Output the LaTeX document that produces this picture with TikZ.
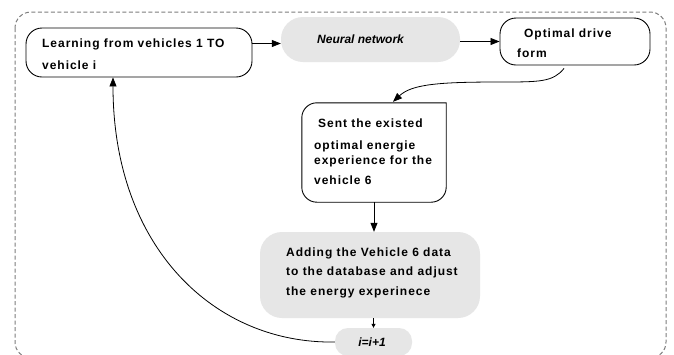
\documentclass[tikz,border=0pt]{standalone}
\usepackage{fontspec}
\setmainfont{Liberation Sans}[LetterSpace=8]
\newfontfamily\plainsans{Liberation Sans}
\usetikzlibrary{arrows.meta}
\definecolor{boxgray}{RGB}{230,230,230}
\definecolor{bordergray}{RGB}{125,125,125}
\tikzset{
  arr/.style={-{Triangle[length=9bp,width=7bp]}, line width=0.8bp, black},
  smallarr/.style={-{Triangle[length=4bp,width=4bp]}, line width=0.8bp, black},
  whitebox/.style={draw=black, line width=0.9bp, fill=white, rounded corners=16bp, inner sep=0pt},
  graybox/.style={fill=boxgray, draw=none, inner sep=0pt},
  boxtext/.style={anchor=west, inner sep=0pt, align=left, font=\fontsize{12bp}{#1}\selectfont\bfseries},
  boxtext/.default={22bp},
  itext/.style={inner sep=0pt, font=\plainsans\fontsize{12bp}{14bp}\selectfont\bfseries\itshape},
  outer/.style={draw=bordergray, line width=1bp, dash pattern=on 4bp off 2.5bp, rounded corners=16bp}
}
\begin{document}
\begin{tikzpicture}[x=1bp,y=-1bp]
\useasboundingbox (0,0) rectangle (674,354);
\fill[white] (0,0) rectangle (674,354);
\clip (0,0) rectangle (674,354);
\draw[outer] (15,12) rectangle (666,358);

% boxes
\node[whitebox, minimum width=226bp, minimum height=49bp] (learn) at (139,52.5) {};
\node[graybox, rounded corners=22bp, minimum width=179bp, minimum height=45bp] (neural) at (370.5,39.5) {};
\node[whitebox, minimum width=150bp, minimum height=47bp] (opt) at (575,41.5) {};
\node[inner sep=0pt, minimum width=144bp, minimum height=99bp] (sent) at (374,152.5) {};
\draw[line width=0.9bp, rounded corners=15bp] (sent.north east) -- (sent.south east) -- (sent.south west) -- (sent.north west) -- ([xshift=0.45bp]sent.north east);
\node[graybox, rounded corners=22bp, minimum width=220bp, minimum height=86bp] (adding) at (370,275) {};
\node[graybox, rounded corners=13bp, minimum width=77bp, minimum height=28bp] (ieq) at (373.5,342) {};

% texts
\node[boxtext] (learnT) at (42,54) {Learning from vehicles 1 TO\\vehicle i};
\node[itext, anchor=west] (neuralT) at (317,39) {Neural network};
\node[boxtext=20bp] (optT) at (517,43) {\hspace*{7bp}Optimal drive\\form};
\node[boxtext=20bp] (sentT) at (314,152) {\hspace*{4bp}Sent the existed\\[2bp]optimal energie\\[-5bp]experience for the\\vehicle 6};
\node[boxtext=19.5bp] (addT) at (286,272.5) {Adding the Vehicle 6 data\\to the database and adjust\\the energy experinece};
\node[itext] (ieqT) at (372,342) {i=i+1};

% connectors
\draw[arr] ([yshift=9bp]learn.east) -- ([yshift=9bp]learn.east -| neural.west);
\draw[arr] (neural.east |- opt.west) -- (opt.west);
\draw[arr] ([xshift=-11bp,yshift=-3bp]opt.south) .. controls (553,82) and (540,82) .. (500,82)
  .. controls (440,82) and (412,84) .. ([xshift=19bp,yshift=1bp]sent.north);
\draw[arr] (sent.south) -- (sent.south |- adding.north);
\draw[smallarr] (ieq.north |- adding.south) -- (ieq.north);
\draw[arr] (ieq.west) .. controls (215,344) and (113,248) .. ([xshift=-26bp]learn.south);
\end{tikzpicture}
\end{document}
